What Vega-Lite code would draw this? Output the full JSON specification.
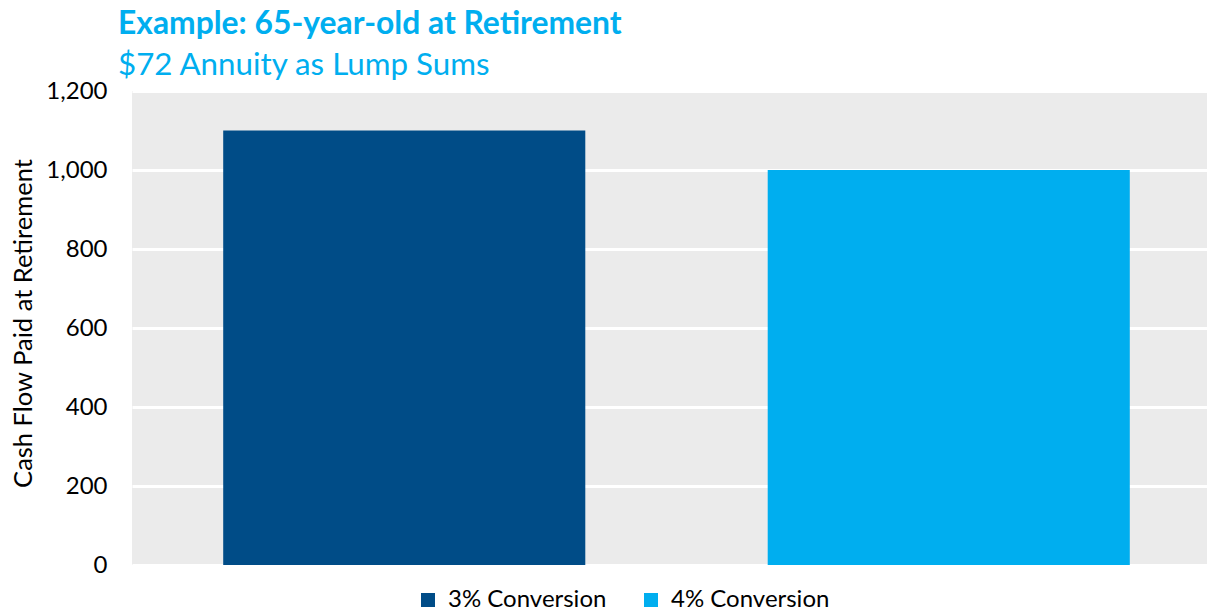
{
  "$schema": "https://vega.github.io/schema/vega-lite/v6.json",
  "width": 1089,
  "height": 474,
  "autosize": {"type": "none"},
  "padding": {"left": 132, "top": 91, "right": 0, "bottom": 47},
  "background": "white",
  "config": {
    "font": "Lato",
    "view": {"fill": "#EBEBEB", "stroke": null}
  },
  "title": {
    "text": "Example: 65-year-old at Retirement",
    "subtitle": "$72 Annuity as Lump Sums",
    "anchor": "start",
    "frame": "group",
    "dx": -14,
    "offset": -2,
    "font": "Lato",
    "fontSize": 31.8,
    "fontWeight": "bold",
    "color": "#00AEEF",
    "subtitleFont": "Lato",
    "subtitleFontSize": 31.3,
    "subtitleColor": "#00AEEF",
    "subtitlePadding": 9
  },
  "data": {
    "values": [
      {"series": "3% Conversion", "value": 1100},
      {"series": "4% Conversion", "value": 1000}
    ]
  },
  "mark": {"type": "bar"},
  "encoding": {
    "x": {
      "field": "series",
      "type": "nominal",
      "axis": null,
      "scale": {"paddingInner": 0.335, "paddingOuter": 0.1675}
    },
    "y": {
      "field": "value",
      "type": "quantitative",
      "scale": {"domain": [0, 1200]},
      "axis": {
        "title": "Cash Flow Paid at Retirement",
        "values": [0, 200, 400, 600, 800, 1000, 1200],
        "format": ",d",
        "domain": false,
        "ticks": false,
        "labelPadding": 25,
        "labelFontSize": 24,
        "labelColor": "#000000",
        "titleFontSize": 25.5,
        "titleFontWeight": "normal",
        "titleColor": "#000000",
        "titlePadding": 9,
        "titleY": 232,
        "gridColor": "#FFFFFF",
        "gridWidth": 3,
        "gridOpacity": 1
      }
    },
    "color": {
      "field": "series",
      "type": "nominal",
      "scale": {"domain": ["3% Conversion", "4% Conversion"], "range": ["#004C87", "#00AEEF"]},
      "legend": {
        "title": null,
        "orient": "none",
        "legendX": 284,
        "legendY": 497,
        "direction": "horizontal",
        "padding": 0,
        "symbolType": "square",
        "symbolSize": 196,
        "symbolStrokeWidth": 0,
        "labelFontSize": 24,
        "labelOffset": 8,
        "labelColor": "#000000",
        "columnPadding": 32
      }
    }
  }
}
